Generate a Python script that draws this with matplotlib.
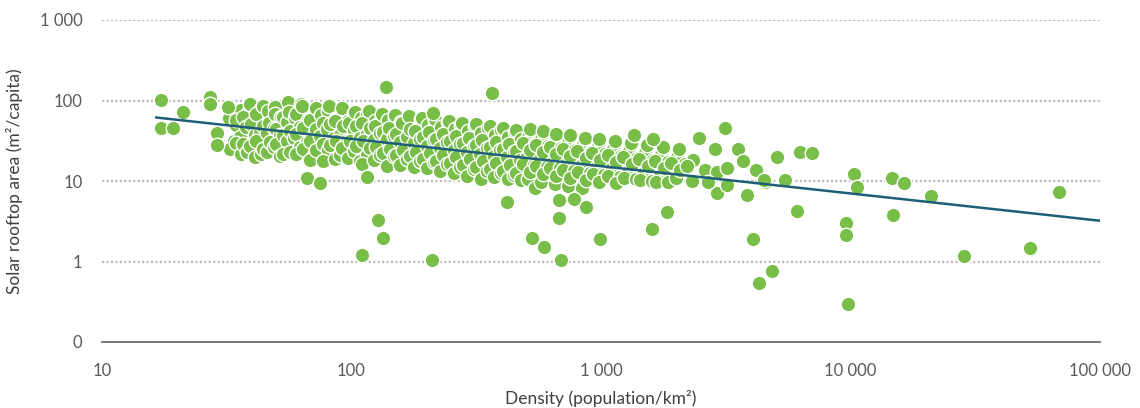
import matplotlib
matplotlib.use("Agg")
import matplotlib.pyplot as plt
import numpy as np

# ---------------- data ----------------
# dense cluster, low density part
density_low = [32.4, 34.3, 33.9, 32.7, 36.2, 34.5, 35.8, 34.4, 36.1,
               38.4, 36.6, 37.9, 36.8, 38.1, 39.1, 41.2, 39.4, 40.9, 39.2, 41.0,
               43.4, 41.3, 43.1, 41.6, 43.3, 44.0, 46.2, 44.3, 45.9, 44.1, 46.0,
               49.2, 46.9, 48.7, 47.0, 49.1, 49.5, 52.0, 50.0, 51.9, 49.7, 51.6,
               55.4, 52.9, 55.2, 53.1, 54.9, 53.0, 56.4, 59.1, 56.6, 58.9, 56.8,
               62.6, 59.8, 62.3, 60.0, 62.1, 59.7, 63.6, 66.8, 64.0, 66.5, 63.9,
               71.2, 67.9, 70.9, 68.2, 70.8, 68.1, 71.8, 75.3, 72.1, 75.0, 71.9,
               80.3, 76.7, 80.0, 76.9, 80.2, 76.6, 81.6, 85.6, 81.9, 85.3, 81.8, 85.5,
               90.5, 86.2, 90.2, 86.5, 90.1, 91.9, 96.5, 92.2, 96.2, 92.0, 96.4]
area_low = [61, 49, 31, 24.8, 76, 58, 34.8, 29.5, 21.8,
            70, 63, 46.5, 29.2, 22.6, 91, 55, 50.5, 37.8, 27.5, 19.8,
            79, 68, 39, 31.8, 21.5, 86, 73.5, 48, 40, 25.2, 22.6,
            82, 52, 46, 30.5, 26.2, 67.5, 63, 44, 37.5, 28.5, 20.5,
            96, 62, 54.5, 36.8, 31.8, 21.6, 72, 60.5, 41.5, 34.5, 23.2,
            91, 68, 47, 38.8, 26.4, 21.8, 85.5, 57, 45.5, 30.5, 25.0,
            68, 57.5, 37.5, 31.5, 20.8, 18.2, 80, 66, 44.5, 36.5, 24.3,
            74.5, 52.5, 44.5, 29.0, 24.2, 17.5, 86, 57.5, 51, 34.5, 28.2, 19.0,
            64, 55.5, 37.8, 31.5, 21.2, 81, 56, 48.5, 31.8, 25.7, 19.3]

# dense cluster, middle part
density_mid = [102.8, 98.0, 102.3, 98.4, 102.1, 103.6, 108.7, 104.0, 108.3, 103.9, 108.5,
               115.9, 110.6, 115.4, 110.9, 115.6, 110.5, 118.0, 123.7, 118.4, 123.3, 118.2, 123.5,
               130.8, 124.7, 130.3, 125.0, 130.6, 133.0, 139.5, 133.4, 139.1, 133.2, 139.3,
               148.8, 141.9, 148.3, 142.2, 148.6, 150.0, 157.3, 150.5, 156.9, 150.3, 157.1,
               167.7, 160.0, 167.2, 160.4, 167.5, 170.6, 178.9, 171.1, 178.4, 170.9, 178.7,
               189.1, 180.4, 188.6, 180.8, 188.9, 192.4, 201.7, 192.9, 201.2, 192.7, 201.5,
               215.2, 205.3, 214.6, 205.7, 214.9, 217.0, 227.5, 217.6, 226.9, 217.3, 227.2,
               242.8, 231.6, 242.1, 232.1, 242.4, 247.0, 259.0, 247.6, 258.3, 247.3, 258.6,
               273.8, 261.2, 273.1, 261.8, 273.4, 278.5, 292.0, 279.2, 291.3, 278.9, 291.6,
               311.5, 297.1, 310.6, 297.8, 311.0, 314.1, 329.3, 314.9, 328.5, 314.5, 328.9,
               351.2, 335.0, 350.3, 335.8, 350.7, 357.4, 374.7, 358.2, 373.7, 357.8, 374.2,
               396.1, 377.8, 395.0, 378.7, 395.6, 403.0, 422.5, 404.0, 421.4, 403.5, 422.0,
               450.7, 429.8, 449.4, 430.9, 450.0, 454.5, 476.5, 455.6, 475.2, 455.0, 475.8,
               212, 530]
area_mid = [70, 52, 43, 31, 23.5, 71, 60, 48, 34, 27, 17.5,
            66, 53, 38, 31, 21, 16.3, 75, 56, 45.5, 32, 25.5, 18,
            56.5, 48, 39, 26.5, 21.2, 68, 58, 40.5, 33, 22, 15.4,
            62, 45, 36.5, 25, 20.2, 66.5, 54.5, 38, 30.2, 21, 16,
            51, 52.5, 35.5, 24.3, 19, 64, 44.5, 44, 29.3, 20.3, 15.1,
            59, 41.7, 33.5, 22.8, 17.9, 60.5, 50, 35, 27.6, 18.7, 14.3,
            56, 40.6, 32.5, 22.2, 17.4, 58.7, 47.2, 33.2, 26, 17.6, 13.5,
            54.5, 38.2, 30.8, 21, 16.4, 55.5, 44.6, 31.3, 24.5, 16.7, 12.4,
            50, 36, 29, 19.7, 15.1, 52.5, 42.2, 29.6, 23.2, 15.7, 11.4,
            48.6, 34.2, 27.5, 18.7, 14.2, 50.9, 39.8, 27.9, 21.8, 14.9, 10.7,
            45.9, 32.3, 25.9, 17.6, 13.5, 48.1, 37.6, 26.4, 20.7, 14.1, 11.1,
            43.4, 30.4, 24.5, 16.7, 12.7, 45.4, 35.6, 24.9, 19.6, 13.3, 10.5,
            40.9, 28.8, 23.2, 15.7, 12.0, 42.9, 33.5, 23.5, 18.4, 12.6, 10.2,
            70.2, 40.8]

# dense cluster, high density part
density_high = [508.2, 484.7, 507.0, 486.0, 507.6, 517.0, 542.1, 518.4, 540.8, 517.7, 541.4,
                573.1, 546.6, 571.6, 548.1, 572.4, 583.0, 611.3, 584.6, 609.7, 583.8,
                652.1, 621.9, 650.4, 623.6, 651.2, 657.4, 689.4, 659.2, 687.6, 658.3,
                735.3, 701.2, 733.4, 703.2, 734.3, 747.9, 784.3, 750.0, 782.3, 749.0,
                844.2, 805.0, 841.9, 807.3, 843.0, 866.6, 908.8, 869.1, 906.4, 867.8,
                969.3, 924.4, 966.7, 927.0, 985, 1033, 988, 1030, 986,
                1113, 1062, 1110, 1065, 1143, 1198, 1146, 1195, 1144,
                1289, 1229, 1286, 1233, 1324, 1389, 1328, 1385,
                1494, 1425, 1490, 1429, 1534, 1609, 1539, 1604,
                1732, 1651, 1727, 1656, 1777, 1864, 1783, 1858,
                2009, 1916, 2003, 2063, 2163, 2070, 2328, 2220, 2320]
area_high = [35.5, 29.5, 20.0, 16.2, 10.5, 44.1, 29.1, 24.2, 16.0, 12.9, 8.3,
             33.6, 27.9, 19.0, 15.3, 9.8, 41.6, 27.5, 22.9, 15.1, 12.2,
             31.7, 26.4, 18.0, 14.5, 9.3, 38.2, 25.9, 21.5, 14.3, 11.6,
             29.9, 24.9, 16.9, 13.7, 8.75, 37.2, 24.5, 20.4, 13.5, 10.8,
             28.3, 23.5, 16.0, 12.9, 8.3, 34.0, 23.2, 19.2, 12.7, 10.3,
             26.7, 22.2, 15.1, 12.2, 33.1, 21.9, 18.2, 12.0, 9.7,
             25.3, 21.0, 14.3, 11.6, 31.3, 20.7, 17.1, 11.3, 9.45,
             23.8, 19.8, 13.1, 10.8, 29.5, 19.5, 16.2, 10.7,
             22.5, 18.7, 12.4, 10.3, 27.9, 18.4, 15.3, 10.1,
             21.3, 17.6, 11.7, 9.7, 26.4, 17.4, 14.5, 9.6,
             20.0, 16.7, 11.0, 24.9, 16.4, 13.7, 18.4, 15.3, 10.1]

# scattered points
density_sparse = [17.2, 17.3, 19.3, 21.1, 27.1, 27.1, 32.0, 28.9, 28.9, 66.3, 74.8, 115,
                  110, 128, 134, 137, 210, 366, 420, 679, 679, 780, 871, 529, 591, 692,
                  991, 1600, 1840, 3140, 2860, 2470, 2920, 3850, 1620, 1360, 3540, 3710,
                  4180, 4540, 5070, 6280, 7010, 4500, 5460, 6100, 4060, 4300, 4840,
                  9600, 9600, 9770, 10330, 10600, 14700, 16400, 14800, 21000, 28500,
                  52400, 68500, 2610, 2920, 3200, 2690, 3200]
area_sparse = [101, 46, 46, 72, 111, 91, 83, 39.5, 28, 11.0, 9.5, 11.3,
               1.21, 3.30, 1.97, 147, 1.05, 124, 5.52, 5.85, 3.49, 6.0, 4.79, 1.97, 1.53, 1.05,
               1.92, 2.55, 4.15, 45.7, 25.1, 34.4, 7.14, 6.74, 33.4, 37.4, 25.1, 17.8,
               13.8, 9.8, 20.0, 23.0, 22.5, 10.4, 10.4, 4.27, 1.92, 0.546, 0.769,
               3.03, 2.15, 0.30, 12.3, 8.5, 11.0, 9.5, 3.81, 6.55, 1.18,
               1.48, 7.35, 13.8, 13.0, 14.6, 9.8, 9.0]

# power-law trend line  area = a * density^b
trend_a = 159.0
trend_b = -0.339
trend_range = [16.5, 100000]

y_ticks = [0.1, 1, 10, 100, 1000]
y_ticklabels = ["0", "1", "10", "100", "1 000"]
x_ticks = [10, 100, 1000, 10000, 100000]
x_ticklabels = ["10", "100", "1 000", "10 000", "100 000"]

# ---------------- plot ----------------
plt.rcParams['font.family'] = ['Lato', 'DejaVu Sans']

fig = plt.figure(figsize=(11.4, 4.08), dpi=100)
ax = fig.add_axes([102 / 1140, 1 - 342 / 408, 998 / 1140, 322 / 408])

dens = np.array(density_low + density_mid + density_high + density_sparse)
area = np.array(area_low + area_mid + area_high + area_sparse)

ax.scatter(dens, area, s=110, c='#78BE48', edgecolors='white', linewidths=1.0, zorder=3)

tx = np.logspace(np.log10(trend_range[0]), np.log10(trend_range[1]), 50)
ax.plot(tx, trend_a * tx ** trend_b, color='#1E5E78', lw=1.8, zorder=4)

ax.set_xscale('log')
ax.set_yscale('log')
ax.set_xlim(10, 100000)
ax.set_ylim(0.1, 1000)

ax.set_yticks(y_ticks)
ax.set_yticklabels(y_ticklabels)
ax.set_xticks(x_ticks)
ax.set_xticklabels(x_ticklabels)
ax.minorticks_off()
ax.tick_params(axis='both', length=0, labelsize=12, colors='#595959')
ax.tick_params(axis='y', pad=14)
ax.tick_params(axis='x', pad=15)

for yv in y_ticks[1:]:
    ax.axhline(yv, color='#BDBDBD', lw=1.6, ls=(0, (1, 1)), zorder=1)

for s in ['top', 'right', 'left']:
    ax.spines[s].set_visible(False)
ax.spines['bottom'].set_color('#6E6E6E')
ax.spines['bottom'].set_linewidth(1.3)

ax.set_ylabel('Solar rooftop area (m²/capita)', fontsize=12.5, color='#404040', labelpad=12)
ax.set_xlabel('Density (population/km²)', fontsize=12.5, color='#404040', labelpad=8)

fig.savefig('out.png', dpi=100, facecolor='white')
